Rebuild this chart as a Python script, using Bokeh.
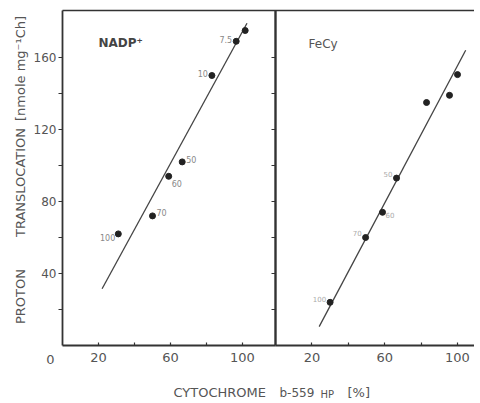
from math import pi
from bokeh.plotting import figure
from bokeh.models import Range1d, LinearAxis, FixedTicker, Label, ColumnDataSource
from bokeh.core.properties import value
from bokeh.embed import file_html
from bokeh.resources import INLINE

# ---------------- data ----------------
nadp_x = [31, 50, 59, 66.5, 83, 96.5, 101.5]
nadp_y = [62, 72, 94, 102, 150, 169, 175]
nadp_labels = ["100", "70", "60", "50", "10", "7.5", ""]
nadp_line_x = [22, 102.5]
nadp_line_y = [31.5, 179]

fecy_x = [30, 49.5, 58.8, 66.5, 83, 95.6, 100]
fecy_y = [24, 60, 74, 93, 135, 139, 150.5]
fecy_labels = ["100", "70", "60", "50", "", "", ""]
fecy_line_x = [24, 104.5]
fecy_line_y = [10.5, 164]

y_ticks = [20, 40, 60, 80, 100, 120, 140, 160]
y_tick_labels = {20: "", 40: "40", 60: "", 80: "80", 100: "", 120: "120", 140: "", 160: "160"}
x_ticks = [20, 40, 60, 80, 100]
x_tick_labels = {20: "20", 40: "", 60: "60", 80: "", 100: "100"}

# label placement (style): offsets in px
nadp_dx = [-3, 4, 3, 4, -4, -4, 0]
nadp_dy = [4, -3, 7, -2, -2, -2, 0]
nadp_al = ["right", "left", "left", "left", "right", "right", "left"]
fecy_dx = [-4, -4, 3, -4, 0, 0, 0]
fecy_dy = [-3, -5, 3, -4, 0, 0, 0]
fecy_al = ["right", "right", "left", "right", "left", "left", "left"]

FONT = "DejaVu Sans"
AX = "#333333"
TXT = "#555555"

W, H = 474, 400
# frame fills the whole canvas; axes are drawn at fixed data locations inside it
p = figure(width=W, height=H,
           x_range=Range1d(-62 / 1.8, (W - 62) / 1.8),
           y_range=Range1d(-(H - 345) / 1.8, 345 / 1.8),
           x_axis_type=None, y_axis_type=None,
           output_backend="svg", toolbar_location=None,
           min_border=0)
p.outline_line_color = None
p.extra_x_ranges = {"fecy": Range1d(-275 / 1.82, (W - 275) / 1.82)}

Y_TOP = 186.1
X_END_A = 118.3


def style(ax, lw=1.6):
    ax.axis_line_color = AX
    ax.axis_line_width = lw
    ax.major_tick_line_color = AX
    ax.major_tick_line_width = 1.2
    ax.minor_tick_line_color = None
    ax.major_label_text_font = FONT
    ax.major_label_text_color = TXT


# left y axis (NADP panel)
ya = LinearAxis(fixed_location=0, ticker=FixedTicker(ticks=y_ticks),
                major_label_overrides=y_tick_labels, bounds=(0, Y_TOP))
style(ya, lw=1.8)
ya.major_tick_out = 4
ya.major_tick_in = 0
ya.major_label_standoff = 2
ya.major_label_text_font_size = "12px"
p.add_layout(ya, "left")

# divider = y axis of the FeCy panel
yb = LinearAxis(x_range_name="fecy", fixed_location=0, ticker=FixedTicker(ticks=y_ticks),
                bounds=(0, Y_TOP))
style(yb, lw=2.4)
yb.major_tick_out = 4
yb.major_tick_in = 0
yb.major_label_text_color = None
p.add_layout(yb, "left")

# bottom axes
xa = LinearAxis(fixed_location=0, ticker=FixedTicker(ticks=x_ticks),
                major_label_overrides=x_tick_labels, bounds=(0, X_END_A))
style(xa, lw=1.8)
xa.major_tick_in = 3
xa.major_tick_out = 0
xa.major_label_standoff = 7
xa.major_label_text_font_size = "13px"
p.add_layout(xa, "below")

xb = LinearAxis(x_range_name="fecy", fixed_location=0, ticker=FixedTicker(ticks=x_ticks),
                major_label_overrides=x_tick_labels, bounds=(0, (W - 275) / 1.82))
style(xb, lw=1.8)
xb.major_tick_in = 3
xb.major_tick_out = 0
xb.major_label_standoff = 7
xb.major_label_text_font_size = "13px"
p.add_layout(xb, "below")

# top border line
xt = LinearAxis(fixed_location=Y_TOP, ticker=FixedTicker(ticks=[]), bounds=(0, (W - 62) / 1.8))
style(xt, lw=1.5)
xt.major_tick_line_color = None
xt.major_label_text_color = None
p.add_layout(xt, "above")

# NADP+ panel
p.line(nadp_line_x, nadp_line_y, line_color="#444444", line_width=1.3)
p.scatter(nadp_x, nadp_y, size=6, color="#222222")
src_a = ColumnDataSource(dict(x=nadp_x, y=nadp_y, t=nadp_labels, dx=nadp_dx, dy=nadp_dy, al=nadp_al))
p.text(x="x", y="y", text="t", x_offset="dx", y_offset="dy", text_align="al",
       text_baseline="middle", text_font=value(FONT), text_font_size="8px",
       text_color="#888888", source=src_a)

# FeCy panel
p.line(fecy_line_x, fecy_line_y, line_color="#444444", line_width=1.3, x_range_name="fecy")
p.scatter(fecy_x, fecy_y, size=6, color="#222222", x_range_name="fecy")
src_b = ColumnDataSource(dict(x=fecy_x, y=fecy_y, t=fecy_labels, dx=fecy_dx, dy=fecy_dy, al=fecy_al))
p.text(x="x", y="y", text="t", x_offset="dx", y_offset="dy", text_align="al",
       text_baseline="middle", text_font=value(FONT), text_font_size="7px",
       text_color="#aaaaaa", source=src_b, x_range_name="fecy")


def lab(text, x, y, size="12px", angle=0, align="left", baseline="alphabetic", style_="normal", color=TXT):
    # x, y in screen px from the canvas' bottom-left corner
    p.add_layout(Label(x=x, y=y, x_units="screen", y_units="screen", text=text, angle=angle,
                       text_align=align, text_baseline=baseline, text_font=FONT,
                       text_font_size=size, text_font_style=style_, text_color=color))


# panel titles
lab("NADP\u207a", 98, H - 42, size="12px", baseline="middle", style_="bold", color="#444444")
lab("FeCy", 308, H - 43, size="12px", baseline="middle", color="#555555")

# origin label
lab("0", 50, H - 359, size="13px", align="center", baseline="middle")

# y axis title
lab("PROTON", 20, H - 296, size="13px", angle=pi / 2, align="center", baseline="middle")
lab("TRANSLOCATION", 20, H - 182, size="13px", angle=pi / 2, align="center", baseline="middle")
lab("[nmole mg\u207b\u00b9Ch]", 20, H - 68, size="13px", angle=pi / 2, align="center", baseline="middle")

# x axis title
lab("CYTOCHROME", 173, H - 392, size="13px")
lab("b-559", 279, H - 392, size="12px")
lab("HP", 320, H - 394, size="10px")
lab("[%]", 347, H - 392, size="13px")

open("out.html", "w").write(file_html(p, INLINE))
